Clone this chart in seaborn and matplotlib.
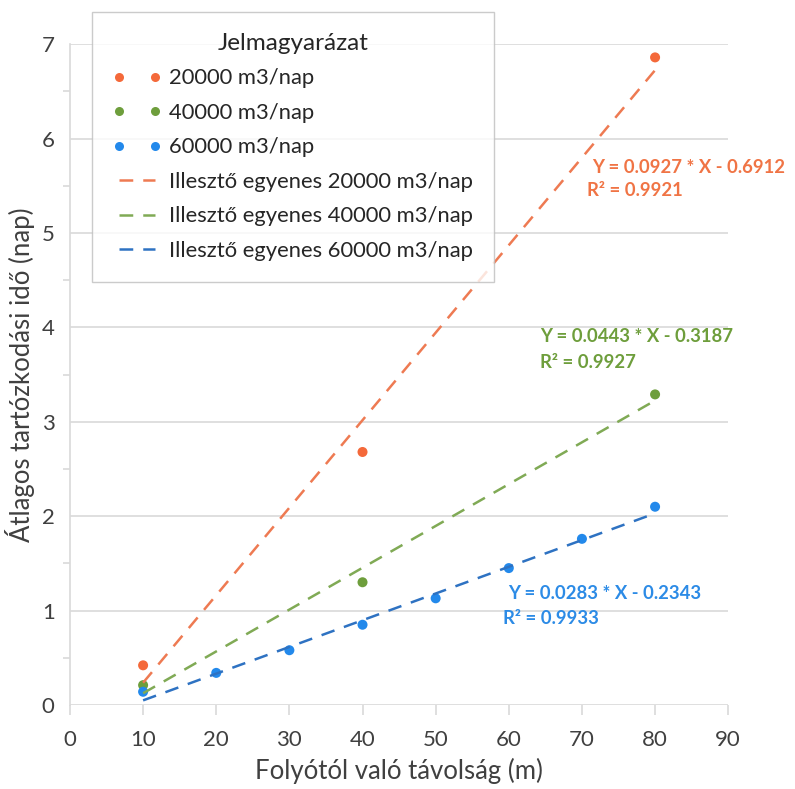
import numpy as np
import pandas as pd
import matplotlib
matplotlib.use("Agg")
import matplotlib.pyplot as plt
from matplotlib.lines import Line2D
import seaborn as sns

# Measured mean residence times per pumping rate
x_20000 = [10, 40, 80]
y_20000 = [0.42, 2.68, 6.86]
x_40000 = [10, 40, 80]
y_40000 = [0.21, 1.30, 3.29]
x_60000 = [10, 20, 30, 40, 50, 60, 70, 80]
y_60000 = [0.14, 0.34, 0.58, 0.85, 1.13, 1.45, 1.76, 2.10]

# Fitted linear models (slope, intercept, R^2)
rates = ["20000 m3/nap", "40000 m3/nap", "60000 m3/nap"]
slopes = [0.0927, 0.0443, 0.0283]
intercepts = [-0.6912, -0.3187, -0.2343]
r2_values = [0.9921, 0.9927, 0.9933]
fit_range = [10, 80]

x_ticks = [0, 10, 20, 30, 40, 50, 60, 70, 80, 90]
y_ticks = [0, 1, 2, 3, 4, 5, 6, 7]

point_colors = ["#F4693A", "#6E9E3C", "#2389EB"]
line_colors = ["#EE7A52", "#80AA55", "#2E72C2"]
text_colors = ["#F07445", "#6E9E3C", "#2C8BE6"]
dash = (0, (5.5, 4))

sns.set_theme(style="white")
plt.rcParams["font.family"] = ["Lato", "DejaVu Sans"]

fig = plt.figure(figsize=(7.95, 7.89), dpi=100)
ax = fig.add_axes([0.088, 0.1065, 0.828, 0.8375])

pts = pd.concat([
    pd.DataFrame({"x": x_20000, "y": y_20000, "rate": rates[0]}),
    pd.DataFrame({"x": x_40000, "y": y_40000, "rate": rates[1]}),
    pd.DataFrame({"x": x_60000, "y": y_60000, "rate": rates[2]}),
])

fits = []
for rate, m, b in zip(rates, slopes, intercepts):
    xs = np.array(fit_range, dtype=float)
    fits.append(pd.DataFrame({"x": xs, "y": m * xs + b, "rate": rate}))
fits = pd.concat(fits)

sns.scatterplot(data=pts, x="x", y="y", hue="rate", palette=point_colors,
                s=52, edgecolor="none", ax=ax, zorder=3, legend=False)

for i, rate in enumerate(rates):
    sub = fits[fits["rate"] == rate]
    sns.lineplot(data=sub, x="x", y="y", ax=ax, color=line_colors[i],
                 linestyle=dash, linewidth=1.8, zorder=4, legend=False)

# Axes styling
grid_c = "#D9D9D9"
ax.set_xlim(0, 90)
ax.set_ylim(0, 7)
ax.set_xticks(x_ticks)
ax.set_yticks(y_ticks)
ax.set_yticks(np.arange(0.5, 7, 1), minor=True)
ax.yaxis.grid(True, color=grid_c, linewidth=1.2)
ax.xaxis.grid(False)
for side in ["top", "right", "bottom"]:
    ax.spines[side].set_visible(False)
ax.spines["left"].set_color(grid_c)
ax.spines["left"].set_linewidth(1.2)
ax.tick_params(axis="x", which="major", bottom=True, length=7, color=grid_c,
               width=1.2, labelsize=16, labelcolor="#404040", pad=11)
ax.tick_params(axis="y", which="minor", left=True, length=5, color=grid_c, width=1.2)
ax.tick_params(axis="y", which="major", left=True, length=0,
               labelsize=16, labelcolor="#404040", pad=11)
ax.set_xlabel("Folyótól való távolság (m)", fontsize=18.5, color="#404040", labelpad=6)
ax.set_ylabel("Átlagos tartózkodási idő (nap)", fontsize=18.5, color="#404040", labelpad=5)

# Regression equations
eq_pos = [(71.4, 5.69), (64.3, 3.90), (59.9, 1.18)]
r2_pos = [(70.7, 5.45), (64.3, 3.63), (59.2, 0.92)]
for i in range(3):
    ax.text(*eq_pos[i], f"Y = {slopes[i]:.4f} * X - {abs(intercepts[i]):.4f}",
            color=text_colors[i], fontsize=13.3, fontweight="bold", ha="left", va="center")
    ax.text(*r2_pos[i], f"R² = {r2_values[i]:.4f}",
            color=text_colors[i], fontsize=13.3, fontweight="bold", ha="left", va="center")

# Legend
handles = []
labels = []
for i, rate in enumerate(rates):
    handles.append(Line2D([0], [0], marker="o", linestyle="none", markersize=6.5,
                          markerfacecolor=point_colors[i], markeredgecolor="none"))
    labels.append(rate)
for i, rate in enumerate(rates):
    handles.append(Line2D([0], [0], color=line_colors[i], linewidth=1.8, linestyle=dash))
    labels.append("Illesztő egyenes " + rate)
leg = fig.legend(handles, labels, title="Jelmagyarázat", loc="upper left",
                 bbox_to_anchor=(92 / 795, 1 - 12 / 789), numpoints=2,
                 fontsize=15.8, title_fontsize=17.5, frameon=True, fancybox=False,
                 edgecolor="#BFBFBF", handlelength=2.2, handletextpad=0.35,
                 borderpad=0.95, labelspacing=0.66, borderaxespad=0)
leg.get_frame().set_linewidth(1.0)
for t in leg.get_texts():
    t.set_color("#262626")
leg.get_title().set_color("#262626")

fig.savefig("out.png", dpi=100)
